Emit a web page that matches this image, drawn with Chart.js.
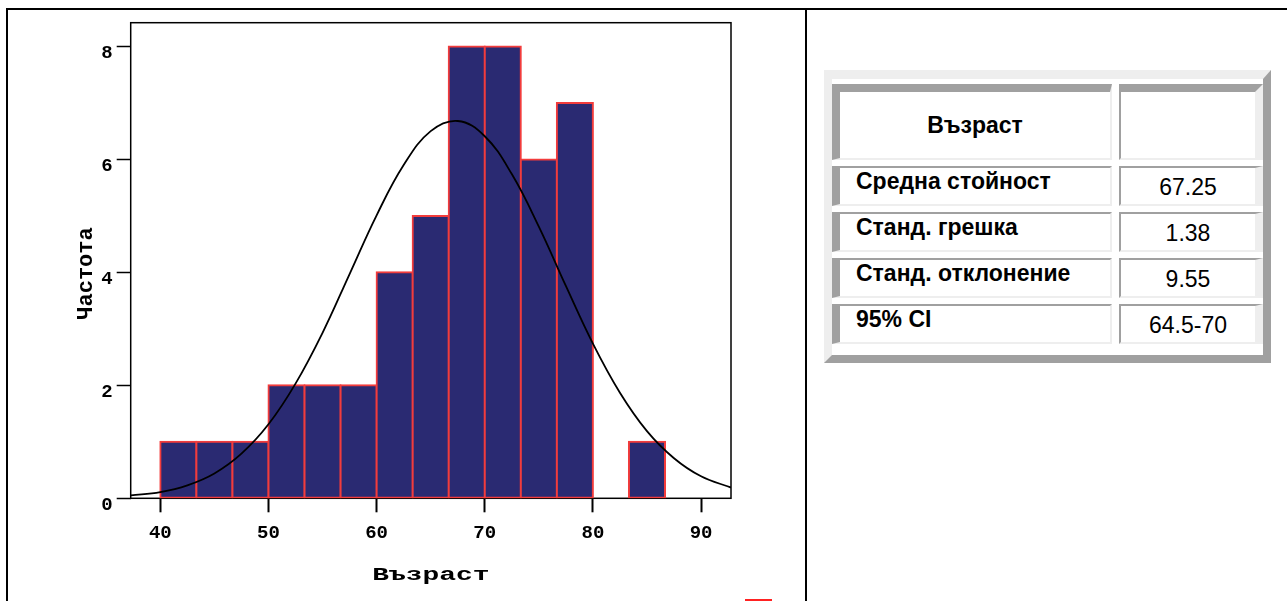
<!DOCTYPE html>
<html>
<head>
<meta charset="utf-8">
<title>Възраст</title>
<script src="https://cdn.jsdelivr.net/npm/chart.js@4.4.1/dist/chart.umd.min.js"></script>
<style>
  html, body { margin: 0; padding: 0; background: #fff; overflow: hidden; }
  body { width: 1287px; height: 601px; position: relative; }
  .rule { position: absolute; background: #000; }
  #chartBox { position: absolute; left: 0; top: 0; width: 805px; height: 601px; }
  .mark { position: absolute; left: 745px; top: 599px; width: 27px; height: 2px; background: #f22; }

  #stats {
    position: absolute; left: 824px; top: 70px; width: 431px; height: 271px;
    border-style: solid; border-width: 9px 8px 8px 8px;
    border-color: #eeeeee #a0a0a0 #a0a0a0 #eeeeee;
    background: #fff; padding-top: 5px;
    display: grid; grid-template-columns: 280px 144px; grid-template-rows: 76px repeat(4, 40px);
    column-gap: 7px; row-gap: 6px; align-content: start;
    font-family: "Liberation Sans", Arial, sans-serif; color: #000;
  }
  #stats div { box-sizing: border-box; background: #fff; border-style: solid; }
  #stats .head { border-width: 8px 2px 2px 8px; border-color: #a0a0a0 #eeeeee #eeeeee #a0a0a0;
    display: flex; align-items: center; justify-content: center; font-weight: bold; font-size: 23px; }
  #stats .headVal { border-width: 8px 8px 2px 2px; border-color: #a0a0a0 #eeeeee #eeeeee #a0a0a0; }
  #stats .label { border-width: 2px 2px 2px 8px; border-color: #a0a0a0 #eeeeee #eeeeee #a0a0a0;
    padding: 0 0 0 16px; font-weight: bold; font-size: 23px; line-height: 27px; }
  #stats .value { border-width: 2px 8px 2px 2px; border-color: #a0a0a0 #eeeeee #eeeeee #a0a0a0;
    display: flex; align-items: center; justify-content: center; font-size: 23px; padding-top: 3px; }
</style>
</head>
<body>
<div class="rule" style="left:6px; top:8px; width:1281px; height:2px;"></div>
<div class="rule" style="left:6px; top:8px; width:2px; height:593px;"></div>
<div class="rule" style="left:805px; top:8px; width:2px; height:593px;"></div>
<div id="chartBox"><canvas id="hist"></canvas></div>
<div class="mark"></div>
<div id="stats"></div>

<script>
// histogram bins (age), counts
const binStart = 40;
const binWidth = 10 / 3;
const binCounts = [1, 1, 1, 2, 2, 2, 4, 5, 8, 8, 6, 7, 0, 1];

// fitted normal curve
const curveX = [37.26, 40, 42.5, 45, 47.5, 50, 52.5, 55, 57.5, 60, 62.5, 65, 67.5, 70, 72.5, 75, 77.5, 80, 82.5, 85, 87.5, 90, 92.77];
const curveY = [0.05, 0.11, 0.23, 0.44, 0.79, 1.31, 2.03, 2.93, 3.97, 5.01, 5.90, 6.50, 6.68, 6.41, 5.74, 4.81, 3.76, 2.74, 1.87, 1.19, 0.71, 0.39, 0.19];

const xTicks = [40, 50, 60, 70, 80, 90];
const yTicks = [0, 2, 4, 6, 8];
const xRange = [37.26, 92.77];
const yRange = [0, 8.42];

const xTitle = 'Възраст';
const yTitle = 'Частота';

// summary table
const statHeader = 'Възраст';
const statLabels = ['Средна стойност', 'Станд. грешка', 'Станд. отклонение', '95% CI'];
const statValues = ['67.25', '1.38', '9.55', '64.5-70'];

const bars = binCounts.map((c, i) => ({ x: binStart + (i + 0.5) * binWidth, y: c }));
const curve = curveX.map((x, i) => ({ x: x, y: curveY[i] }));

// black box round the plot area
const plotFrame = {
    id: 'plotFrame',
    beforeDatasetsDraw(chart) {
        const { ctx, chartArea: a } = chart;
        ctx.save();
        ctx.strokeStyle = '#000';
        ctx.lineWidth = 1.5;
        ctx.strokeRect(a.left, a.top, a.right - a.left, a.bottom - a.top);
        ctx.restore();
    }
};

// axis titles in the picture are stretched wide / sit a bit low
const titleAdjust = {
    id: 'titleAdjust',
    beforeDraw(chart, args, opts) {
        Object.keys(opts.axes || {}).forEach((id) => {
            const scale = chart.scales[id];
            if (!scale || scale._adjusted) return;
            const a = opts.axes[id];
            const orig = scale.drawTitle;
            scale.drawTitle = function () {
                const ctx = chart.ctx;
                const cx = (this.left + this.right) / 2;
                ctx.save();
                ctx.translate(cx, a.shiftY || 0);
                ctx.scale(a.stretchX || 1, 1);
                ctx.translate(-cx, 0);
                orig.call(this);
                ctx.restore();
            };
            scale._adjusted = true;
        });
    }
};

const monoFamily = "'Liberation Mono', 'Courier New', monospace";

new Chart(document.getElementById('hist'), {
    type: 'bar',
    data: {
        datasets: [{
            type: 'line',
            data: curve,
            borderColor: '#000',
            borderWidth: 1.8,
            pointRadius: 0,
            tension: 0.4,
            fill: false,
            order: 0
        }, {
            type: 'bar',
            data: bars,
            backgroundColor: '#2a2a72',
            borderColor: '#f23c3c',
            borderWidth: 2,
            borderSkipped: false,
            inflateAmount: (ctx) => (ctx.raw && ctx.raw.y ? 1 : 0),
            barPercentage: 1,
            categoryPercentage: 1,
            order: 1
        }]
    },
    options: {
        responsive: true,
        maintainAspectRatio: false,
        animation: false,
        layout: { padding: { left: 0, top: 22.7, right: 74, bottom: 0 } },
        plugins: {
            legend: { display: false },
            tooltip: { enabled: false },
            titleAdjust: { axes: { x: { stretchX: 1.55 }, y: { shiftY: 13 } } }
        },
        scales: {
            x: {
                type: 'linear',
                min: xRange[0],
                max: xRange[1],
                bounds: 'data',
                offset: false,
                afterBuildTicks: (scale) => { scale.ticks = xTicks.map(v => ({ value: v })); },
                afterFit: (scale) => { scale.height = 102.7; },
                grid: { drawOnChartArea: false, offset: false, tickLength: 14, tickColor: '#000', tickWidth: 2 },
                border: { display: false },
                ticks: { color: '#000', font: { family: monoFamily, weight: 'bold', size: 19 }, padding: 10, maxRotation: 0 },
                title: {
                    display: true, text: xTitle, color: '#000',
                    font: { family: monoFamily, weight: 'bold', size: 18 },
                    padding: { top: 0, bottom: 15 }
                }
            },
            y: {
                type: 'linear',
                min: yRange[0],
                max: yRange[1],
                bounds: 'data',
                afterBuildTicks: (scale) => { scale.ticks = yTicks.map(v => ({ value: v })); },
                afterFit: (scale) => { scale.width = 130.7; },
                grid: { drawOnChartArea: false, tickLength: 14, tickColor: '#000', tickWidth: 1.5 },
                border: { display: false },
                ticks: { color: '#000', font: { family: monoFamily, weight: 'bold', size: 19 }, padding: 4, labelOffset: 7 },
                title: {
                    display: true, text: yTitle, color: '#000',
                    font: { family: monoFamily, weight: 'bold', size: 22 },
                    padding: { top: 73, bottom: 0 }
                }
            }
        }
    },
    plugins: [plotFrame, titleAdjust]
});

// build the stats table
const stats = document.getElementById('stats');
let html = '<div class="head">' + statHeader + '</div><div class="headVal"></div>';
statLabels.forEach((lab, i) => {
    html += '<div class="label">' + lab + '</div><div class="value">' + statValues[i] + '</div>';
});
stats.innerHTML = html;
</script>
</body>
</html>
